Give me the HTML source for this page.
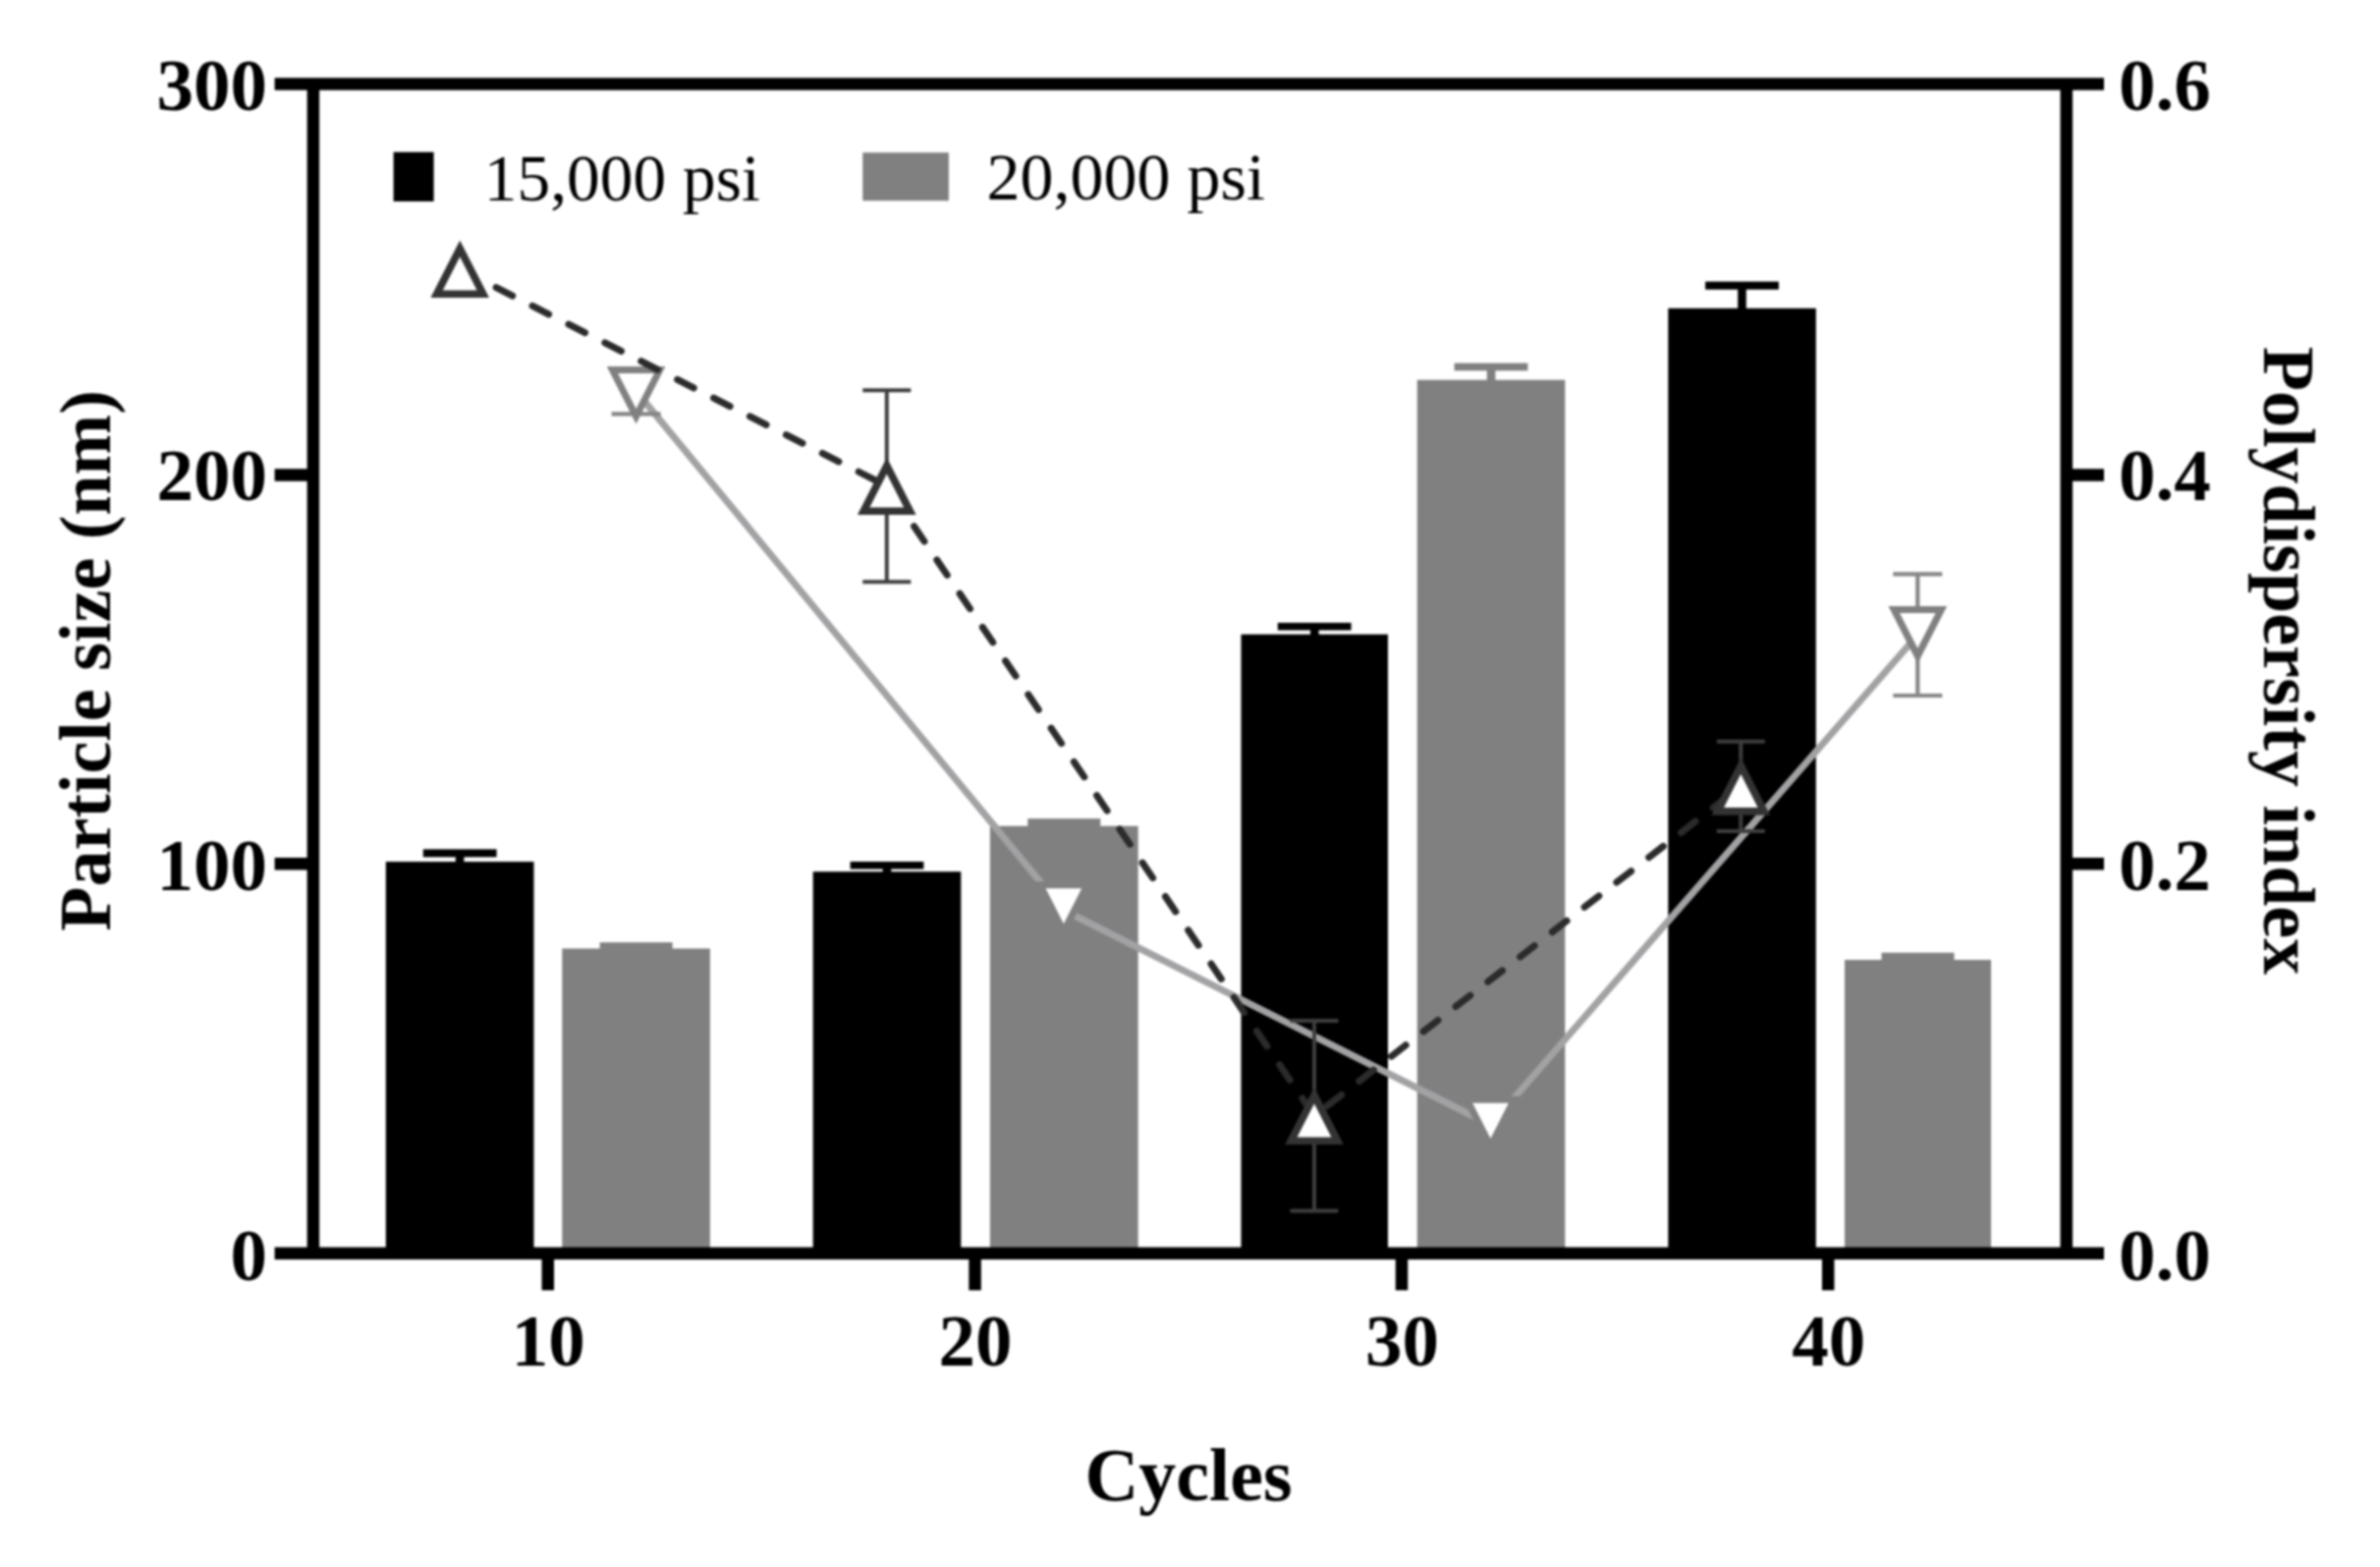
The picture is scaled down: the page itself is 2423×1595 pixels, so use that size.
<!DOCTYPE html>
<html lang="en"><head><meta charset="utf-8"><title>Particle size and polydispersity index vs cycles</title>
<style>html,body{margin:0;padding:0;background:#fff}body{width:2423px;height:1595px;overflow:hidden}</style></head>
<body>
<svg width="2423" height="1595" viewBox="0 0 2423 1595" style="display:block;filter:blur(0.9px)">
<rect width="2423" height="1595" fill="#fff"/>
<g id="bars">
<rect x="392.8" y="877.1" width="150.7" height="398.7" fill="#000"/>
<rect x="430.8" y="864.4" width="74.8" height="8.0" fill="#000"/>
<rect x="463.8" y="865.4" width="8.6" height="12.7" fill="#000"/>
<rect x="572.3" y="965.5" width="150.6" height="310.3" fill="#808080"/>
<rect x="610.6" y="959.2" width="74" height="7.3" fill="#808080"/>
<rect x="827.7" y="887.2" width="150.6" height="388.6" fill="#000"/>
<rect x="865.6" y="877.0" width="74.8" height="7.6" fill="#000"/>
<rect x="898.7" y="878.0" width="8.6" height="10.2" fill="#000"/>
<rect x="1007.9" y="840.8" width="150.8" height="435.0" fill="#808080"/>
<rect x="1046.3" y="833.2" width="74" height="8.6" fill="#808080"/>
<rect x="1263.5" y="645.7" width="149.5" height="630.1" fill="#000"/>
<rect x="1300.8" y="633.9" width="74.8" height="7.6" fill="#000"/>
<rect x="1334.0" y="634.9" width="8.6" height="11.8" fill="#000"/>
<rect x="1442.8" y="386.7" width="150.5" height="889.1" fill="#808080"/>
<rect x="1480.6" y="369.6" width="74.8" height="7.7" fill="#808080"/>
<rect x="1513.8" y="370.6" width="8.6" height="17.1" fill="#808080"/>
<rect x="1698.3" y="313.8" width="150.5" height="962.0" fill="#000"/>
<rect x="1736.1" y="286.6" width="74.8" height="8.1" fill="#000"/>
<rect x="1769.2" y="287.6" width="8.6" height="27.2" fill="#000"/>
<rect x="1878.0" y="977.0" width="149.0" height="298.8" fill="#808080"/>
<rect x="1915.5" y="969.7" width="74" height="8.3" fill="#808080"/>
</g>
<g id="series-gray">
<polyline points="651.0,402.3 1082.9,926.5 1517.5,1145.0 1952.3,646.2" fill="none" stroke="#a2a2a5" stroke-width="7" stroke-linejoin="round"/>
<path d="M647.6 402.4V421.3M622.6 421.3H672.6" stroke="#858585" stroke-width="4.2" fill="none"/>
<polygon points="623.5,376.6 671.7,376.6 647.6,423.9" fill="#fff" stroke="#808080" stroke-width="7" stroke-linejoin="miter"/>
<polygon points="1058.8,900.7 1107.0,900.7 1082.9,948.0" fill="#fff" stroke="#808080" stroke-width="7" stroke-linejoin="miter"/>
<polygon points="1493.4,1119.2 1541.6,1119.2 1517.5,1166.5" fill="#fff" stroke="#808080" stroke-width="7" stroke-linejoin="miter"/>
<path d="M1952.3 584.4V708.0M1927.3 584.4H1977.3M1927.3 708.0H1977.3" stroke="#858585" stroke-width="4.2" fill="none"/>
<polygon points="1928.2,620.4 1976.4,620.4 1952.3,667.7" fill="#fff" stroke="#808080" stroke-width="7" stroke-linejoin="miter"/>
</g>
<g id="series-dark">
<line x1="494.9" y1="287.4" x2="902.8" y2="494.8" stroke="#2b2b2b" stroke-width="7" stroke-linecap="round" stroke-dasharray="18.6 22.8" stroke-dashoffset="29.9"/>
<line x1="902.8" y1="494.8" x2="1338.0" y2="1135.8" stroke="#2b2b2b" stroke-width="7" stroke-linecap="round" stroke-dasharray="18.6 22.8" stroke-dashoffset="33.3"/>
<line x1="1338.0" y1="1135.8" x2="1772.3" y2="800.4" stroke="#2b2b2b" stroke-width="7" stroke-linecap="round" stroke-dasharray="18.6 22.8" stroke-dashoffset="25.0"/>
<polygon points="468.2,253.0 491.8,299.2 444.6,299.2" fill="#fff" stroke="#333333" stroke-width="7.6" stroke-linejoin="miter"/>
<path d="M902.8 397.3V592.3M878.3 397.3H927.3M878.3 592.3H927.3" stroke="#3e3e3e" stroke-width="4" fill="none"/>
<polygon points="902.8,474.0 926.4,520.2 879.2,520.2" fill="#fff" stroke="#333333" stroke-width="7.6" stroke-linejoin="miter"/>
<path d="M1338.0 1039.1V1232.5M1313.5 1039.1H1362.5M1313.5 1232.5H1362.5" stroke="#3e3e3e" stroke-width="4" fill="none"/>
<polygon points="1338.0,1115.0 1361.6,1161.2 1314.4,1161.2" fill="#fff" stroke="#333333" stroke-width="7.6" stroke-linejoin="miter"/>
<path d="M1772.3 754.7V846.1M1747.8 754.7H1796.8M1747.8 846.1H1796.8" stroke="#3e3e3e" stroke-width="4" fill="none"/>
<polygon points="1772.3,779.6 1795.9,825.9 1748.7,825.9" fill="#fff" stroke="#333333" stroke-width="7.6" stroke-linejoin="miter"/>
</g>
<g id="axes" stroke="#000" stroke-width="12.5" fill="none">
<path d="M279.6 85.4H2142M279.6 1275.8H2142M318.9 85.4V1275.8M2103.8 85.4V1275.8"/>
<path d="M279.6 483.4H318.9M2103.8 483.4H2142"/>
<path d="M279.6 879.2H318.9M2103.8 879.2H2142"/>
<path d="M557.8 1275.8V1313.3"/>
<path d="M992.6 1275.8V1313.3"/>
<path d="M1427.0 1275.8V1313.3"/>
<path d="M1861.2 1275.8V1313.3"/>
</g>
<g id="labels" font-family="'Liberation Serif', serif" fill="#000">
<g font-weight="bold" font-size="75">
<text x="272" y="112.2" text-anchor="end">300</text>
<text x="272" y="509.2" text-anchor="end">200</text>
<text x="272" y="906.2" text-anchor="end">100</text>
<text x="272" y="1303.2" text-anchor="end">0</text>
<text x="2157" y="112.2">0.6</text>
<text x="2157" y="509.2">0.4</text>
<text x="2157" y="906.2">0.2</text>
<text x="2157" y="1303.2">0.0</text>
<text x="558.3" y="1390" text-anchor="middle">10</text>
<text x="993.1" y="1390" text-anchor="middle">20</text>
<text x="1427.5" y="1390" text-anchor="middle">30</text>
<text x="1861.7" y="1390" text-anchor="middle">40</text>
</g>
<g font-weight="bold" font-size="74">
<text x="1210" y="1527" text-anchor="middle" font-size="76">Cycles</text>
<text transform="translate(112.2 672.5) rotate(-90)" text-anchor="middle">Particle size (nm)</text>
<text transform="translate(2305.2 672.5) rotate(90)" text-anchor="middle">Polydispersity index</text>
</g>
<g font-size="68">
<rect x="400.6" y="154.8" width="41" height="50.2" fill="#000"/>
<text x="492.8" y="204.3" font-size="67.4">15,000 psi</text>
<rect x="878.3" y="155.3" width="87.6" height="49" fill="#808080"/>
<text x="1004.5" y="202.9">20,000 psi</text>
</g>
</g>
</svg>
</body></html>
